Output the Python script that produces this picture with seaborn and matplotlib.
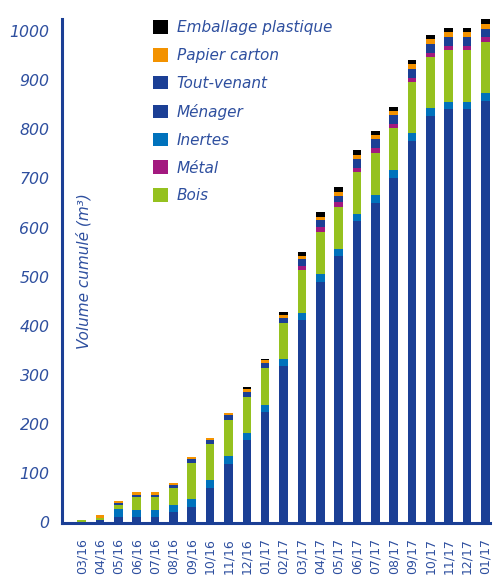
import numpy as np
import pandas as pd
import matplotlib
matplotlib.use("Agg")
import matplotlib.pyplot as plt
import seaborn as sns
from matplotlib.patches import Patch

months = ["03/16", "04/16", "05/16", "06/16", "07/16", "08/16", "09/16", "10/16",
          "11/16", "12/16", "01/17", "02/17", "03/17", "04/17", "05/17", "06/17",
          "07/17", "08/17", "09/17", "10/17", "11/17", "12/17", "01/17"]

menager = [0, 4, 11, 11, 11, 21, 31, 70, 119, 168, 225, 318, 411.5, 489, 542, 613,
           650, 701, 776, 827, 841, 841, 858]
inertes = [0, 0, 16, 14, 14, 14, 16, 16, 16, 14, 14, 14, 14.5, 16, 14, 14,
           16, 16, 16, 16, 15, 15, 17]
bois = [5, 5, 7, 26.5, 26.5, 34.5, 73, 73, 73, 73, 75, 73, 87, 86, 86, 86.5,
        85.5, 86, 104, 104, 105.5, 105.5, 103.5]
metal = [0, 0, 0, 0, 0, 0, 0, 0, 0, 0, 0, 0, 8.5, 10, 10.5, 8.5,
         10.5, 8, 8, 8, 8.5, 8.5, 10]
tout_venant = [0, 0, 4, 4, 4, 5, 8, 9, 10, 10, 10, 11, 14.5, 15, 12.5, 17,
               18, 18, 19, 19, 18.5, 18.5, 16]
papier = [0, 6, 5.5, 6, 6, 4, 5, 4, 4, 7, 5.5, 6, 6, 6, 8, 9,
          8, 9, 10, 10, 9.5, 9.5, 10]
emballage = [0, 0, 0, 0, 0, 0, 0, 0, 0, 4, 3.5, 6, 8, 9, 9, 10,
             9, 8, 9, 9, 8, 8, 10.5]

stack_names = ["Ménager", "Inertes", "Bois", "Métal", "Tout-venant", "Papier carton", "Emballage plastique"]
stack_values = [menager, inertes, bois, metal, tout_venant, papier, emballage]
colors = {"Ménager": "#1b3f95", "Inertes": "#0072bc", "Bois": "#95c11f",
          "Métal": "#a3197f", "Tout-venant": "#1b3f95", "Papier carton": "#f39200",
          "Emballage plastique": "#000000"}
legend_order = ["Emballage plastique", "Papier carton", "Tout-venant", "Ménager",
                "Inertes", "Métal", "Bois"]

txt_color = "#2e4f9f"
axis_color = "#1b3f95"

sns.set_theme(style="white")
plt.rcParams['font.family'] = ['DejaVu Sans']

df = pd.DataFrame({"pos": np.arange(len(months))})
cum = np.zeros(len(months))
cums = []
for name, vals in zip(stack_names, stack_values):
    cum = cum + np.array(vals, dtype=float)
    cums.append((name, cum.copy()))
for name, c in cums:
    df[name] = c

fig = plt.figure(figsize=(4.93, 5.78), dpi=100)
ax = fig.add_axes([62/493, 1 - 523/578, (490 - 62)/493, (523 - 19)/578])

for name, c in reversed(cums):
    sns.barplot(data=df, x="pos", y=name, color=colors[name], width=0.47,
                saturation=1, linewidth=0, errorbar=None, ax=ax)

ax.set_xlim(-1.07, 22.25)
ax.set_ylim(-2, 1025)
ax.set_yticks(np.arange(0, 1001, 100))
ax.set_yticklabels([str(v) for v in range(0, 1001, 100)], fontsize=11.3,
                   style="italic", color=txt_color)
ax.set_xticks(np.arange(len(months)))
ax.set_xticklabels(months, rotation=90, fontsize=9, color=txt_color)
ax.tick_params(axis="x", length=0, pad=11)
ax.tick_params(axis="y", length=0, pad=9)
ax.set_xlabel("")
ax.set_ylabel("")
for s in ["top", "right"]:
    ax.spines[s].set_visible(False)
for s in ["left", "bottom"]:
    ax.spines[s].set_color(axis_color)
    ax.spines[s].set_linewidth(2.2)
ax.grid(False)

fig.text(84/493, 1 - 271/578, "Volume cumulé (m³)", rotation=90, ha="center",
         va="center", fontsize=11, style="italic", color=txt_color)

handles = [Patch(facecolor=colors[n], edgecolor="none", label=n) for n in legend_order]
leg = ax.legend(handles=handles, loc="upper left",
                bbox_to_anchor=(153/493, 1 - 20/578), bbox_transform=fig.transFigure,
                frameon=False, fontsize=11, handlelength=1.0, handleheight=1.0,
                handletextpad=0.55, labelspacing=0.84, borderpad=0, borderaxespad=0)
for t in leg.get_texts():
    t.set_color(txt_color)
    t.set_style("italic")

fig.savefig("out.png", dpi=100)
